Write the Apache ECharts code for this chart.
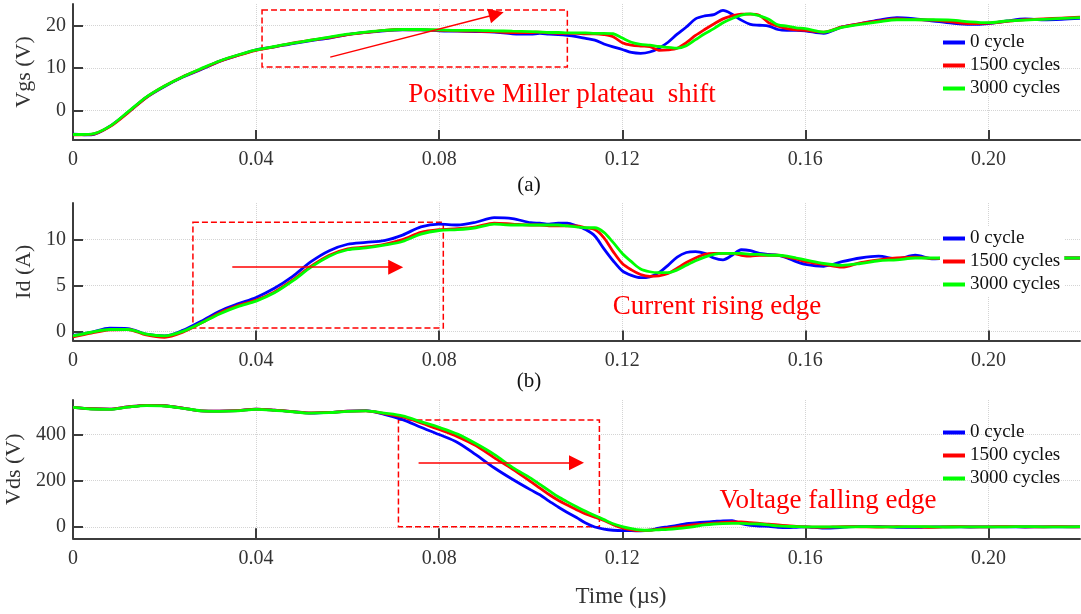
<!DOCTYPE html>
<html><head><meta charset="utf-8">
<script src="https://cdn.jsdelivr.net/npm/echarts@6/dist/echarts.min.js"></script>
<style>html,body{margin:0;padding:0;background:#fff}#c{width:1081px;height:614px}</style>
</head><body><div id="c"></div>
<script>
// time axis (µs)
const T = [0,0.004,0.008,0.012,0.016,0.02,0.024,0.028,0.032,0.036,
  0.04,0.044,0.048,0.052,0.056,0.06,0.064,0.068,0.072,0.076,
  0.08,0.084,0.088,0.092,0.096,0.1,
  0.102,0.104,0.106,0.108,0.11,0.112,0.114,0.116,0.118,0.12,
  0.122,0.124,0.126,0.128,0.13,0.132,0.134,0.136,0.138,0.14,
  0.142,0.144,0.146,0.148,0.15,0.152,0.154,0.156,0.158,0.16,
  0.164,0.168,0.172,0.176,0.18,0.184,0.188,0.192,0.196,0.2,
  0.204,0.208,0.212,0.216,0.22];

const seriesNames = ['0 cycle','1500 cycles','3000 cycles'];

// (a) Vgs (V)
const vgs0 = [-5.6,-5.8,-3.8,-0.5,3.0,5.6,7.8,9.6,11.5,12.9,
  14.2,14.9,15.7,16.4,17.0,17.8,18.3,18.7,18.9,18.9,
  18.7,18.6,18.5,18.4,18.0,17.9,
  18.1,17.9,17.8,17.6,17.3,16.9,16.5,15.6,14.9,14.3,
  13.6,13.4,13.7,14.6,16.0,17.9,19.6,21.5,22.2,22.5,
  23.5,22.6,21.2,20.2,20.0,19.8,19.0,18.8,18.8,18.7,
  18.1,19.6,20.4,21.2,21.8,21.5,21.0,20.5,20.2,20.4,
  21.0,21.5,21.3,21.4,21.6];
const vgs1500 = [-5.8,-5.7,-3.9,-0.6,3.0,5.7,7.9,9.7,11.5,12.9,
  14.1,14.9,15.8,16.5,17.1,17.8,18.3,18.8,19.0,18.9,
  18.8,18.7,18.6,18.5,18.3,18.3,
  18.4,18.2,18.1,18.1,18.1,18.0,18.0,17.8,17.3,15.9,
  15.3,15.1,15.0,14.1,14.2,14.6,15.9,17.6,19.0,20.3,
  21.5,22.2,22.6,22.6,22.3,20.6,19.8,19.2,18.9,18.8,
  18.4,19.6,20.4,21.0,21.5,21.3,21.2,20.8,20.4,20.5,
  20.9,21.3,21.5,21.7,21.9];
const vgs3000 = [-5.7,-5.6,-3.8,-0.4,3.1,5.7,7.9,9.8,11.6,13.0,
  14.2,15.0,15.8,16.5,17.2,17.9,18.4,18.8,19.0,19.0,
  18.9,18.8,18.8,18.7,18.6,18.5,
  18.4,18.3,18.3,18.2,18.2,18.2,18.1,18.1,18.0,17.0,
  16.0,15.5,15.3,15.0,14.8,14.6,15.2,16.6,18.0,19.2,
  20.6,21.6,22.4,22.7,22.2,21.4,20.1,19.8,19.4,19.2,
  18.4,19.5,20.2,20.8,21.3,21.3,21.3,21.2,20.8,20.6,
  21.0,21.2,21.4,21.6,21.8];

// (b) Id (A)
const id0 = [-0.45,-0.1,0.35,0.3,-0.3,-0.5,0.1,1.1,2.2,3.0,
  3.7,4.7,6.0,7.6,8.8,9.5,9.7,9.9,10.5,11.4,
  11.7,11.6,11.9,12.4,12.3,11.85,
  11.8,11.7,11.8,11.8,11.5,11.1,10.4,9.0,7.7,6.6,
  6.1,5.85,5.95,6.4,7.2,8.1,8.6,8.7,8.5,8.0,
  7.8,8.3,8.9,8.8,8.5,8.4,8.3,8.0,7.6,7.3,
  7.1,7.6,8.0,8.2,7.9,8.3,7.9,8.0,8.0,8.0,
  8.0,8.0,8.0,8.0,8.0];
const id1500 = [-0.6,-0.2,0.15,0.2,-0.4,-0.65,-0.1,0.9,2.0,2.8,
  3.4,4.3,5.6,7.1,8.3,9.0,9.2,9.5,10.0,10.8,
  11.1,11.2,11.4,11.8,11.7,11.6,
  11.6,11.5,11.5,11.5,11.5,11.3,11.1,10.2,8.7,7.4,
  6.7,6.2,6.0,6.05,6.3,6.9,7.5,8.0,8.4,8.5,
  8.5,8.5,8.3,8.2,8.3,8.3,8.3,8.1,7.9,7.6,
  7.3,7.0,7.5,7.8,8.0,8.1,7.95,8.0,8.0,8.0,
  8.0,8.0,8.0,8.0,8.0];
const id3000 = [-0.5,-0.1,0.2,0.2,-0.3,-0.5,0.0,0.9,1.9,2.7,
  3.3,4.2,5.5,7.0,8.2,8.9,9.1,9.4,9.8,10.6,
  11.0,11.1,11.3,11.7,11.6,11.6,
  11.6,11.6,11.6,11.5,11.4,11.3,11.3,10.8,9.7,8.5,
  7.6,6.8,6.5,6.4,6.4,6.7,7.2,7.7,8.1,8.4,
  8.5,8.5,8.5,8.4,8.4,8.3,8.3,8.2,8.0,7.8,
  7.4,7.2,7.4,7.7,7.8,8.0,8.0,8.0,8.0,8.0,
  8.0,8.0,8.0,8.0,8.0];

// (c) Vds (V)
const vds0 = [518,512,510,520,527,525,515,503,502,504,
  510,506,500,493,496,502,504,488,465,432,
  400,366,313,256,206,160,
  139,111,86,62,40,16,-1,-10,-15,-17,
  -17,-18,-15,-6,0,6,14,17,20,23,
  26,27,14,6,3,2,-2,-4,-2,0,
  -6,-3,2,2,-2,-3,0,0,-1,0,
  0,-1,0,0,0];
const vds1500 = [518,512,510,520,527,525,515,503,502,504,
  510,506,500,494,496,502,503,491,477,451,
  422,391,352,300,250,196,
  168,140,115,94,74,56,42,27,9,-5,
  -13,-17,-15,-10,-6,-1,4,9,13,16,
  19,21,21,18,15,11,8,5,2,0,
  -2,1,0,-1,1,0,-2,1,0,0,
  1,0,0,1,0];
const vds3000 = [518,511,509,519,526,524,514,503,501,503,
  509,505,499,493,495,501,503,493,481,456,
  431,402,361,314,258,211,
  184,157,130,108,87,67,49,31,13,1,
  -8,-14,-15,-13,-11,-8,-4,2,8,12,
  14,15,15,13,12,8,4,2,1,0,
  0,-1,1,0,0,1,0,-1,0,0,
  0,1,0,0,1];

// ticks
const xTicks = [0,0.04,0.08,0.12,0.16,0.2];
const vgsTicks = [0,10,20];
const idTicks = [0,5,10];
const vdsTicks = [0,200,400];

// annotation boxes [x1,y1,x2,y2] and arrows [x1,y1,x2,y2] (data space)
const boxA = [0.0413,23.6,0.108,10.2];
const arrowA = [0.0562,12.5,0.0925,22.6];
const boxB = [0.0262,11.9,0.0809,0.36];
const arrowB = [0.0348,7.0,0.0705,7.0];
const boxC = [0.0711,463,0.115,0];
const arrowC = [0.0755,278,0.110,278];

const FONT = 'Liberation Serif';
const AXC = '#3c3c3c';
const COLORS = ['#0000ff','#ff0000','#00ff00'];

const grids = [
  {left:73, right:1, top:4, height:136, outerBoundsMode:'none', containLabel:false},
  {left:73, right:1, top:203, height:137.5, outerBoundsMode:'none', containLabel:false},
  {left:73, right:1, top:400, height:138.3, outerBoundsMode:'none', containLabel:false}
];

function mkX(i){
  return {
    type:'value', gridIndex:i, min:0, max:0.22,
    axisLine:{show:true, onZero:false, lineStyle:{color:AXC, width:2}},
    axisTick:{show:true, inside:true, length:10, customValues:xTicks, lineStyle:{color:AXC, width:2}},
    axisLabel:{customValues:xTicks, fontFamily:FONT, fontSize:20, color:'#333', margin:10,
      formatter:v => v === 0 ? '0' : v.toFixed(2)},
    splitLine:{show:true, lineStyle:{color:'#d4d4d4', type:'dotted', width:1}}
  };
}
function mkY(i, name, min, max, ticks){
  return {
    type:'value', gridIndex:i, min:min, max:max, name:name,
    nameLocation:'middle', nameGap:32,
    nameTextStyle:{fontFamily:FONT, fontSize:22, color:'#333'},
    axisLine:{show:true, lineStyle:{color:AXC, width:2}},
    axisTick:{show:true, inside:true, length:10, customValues:ticks, lineStyle:{color:AXC, width:2}},
    axisLabel:{customValues:ticks, fontFamily:FONT, fontSize:20, color:'#333', margin:7},
    splitLine:{show:true, lineStyle:{color:'#d4d4d4', type:'dotted', width:1}}
  };
}

const panelData = [[vgs0,vgs1500,vgs3000],[id0,id1500,id3000],[vds0,vds1500,vds3000]];
const boxes = [boxA, boxB, boxC];
const arrows = [arrowA, arrowB, arrowC];

const series = [];
panelData.forEach((arrs, p) => {
  arrs.forEach((arr, k) => {
    const s = {
      type:'line', name:seriesNames[k], xAxisIndex:p, yAxisIndex:p,
      data:T.map((t,j) => [t, arr[j]]),
      showSymbol:false, smooth:0.3,
      lineStyle:{color:COLORS[k], width:2.8},
      itemStyle:{color:COLORS[k]},
      emphasis:{disabled:true}, silent:true
    };
    if (k === 2) {
      const b = boxes[p], a = arrows[p];
      s.markArea = {
        silent:true, label:{show:false},
        itemStyle:{color:'rgba(0,0,0,0)', borderColor:'#ff0000', borderWidth:1.5, borderType:[6,3]},
        data:[[{coord:[b[0],b[1]]},{coord:[b[2],b[3]]}]]
      };
      s.markLine = {
        silent:true, symbol:['none','triangle'], symbolSize:15,
        label:{show:false},
        lineStyle:{color:'#ff0000', width:1.5, type:'solid'},
        emphasis:{disabled:true},
        data:[[{coord:[a[0],a[1]]},{coord:[a[2],a[3]]}]]
      };
    }
    series.push(s);
  });
});

const legendTops = [31, 227, 421];
const legends = legendTops.map((top, i) => ({
  data:seriesNames, orient:'vertical', left:940, top:top,
  icon:'rect', itemWidth:22, itemHeight:4, itemGap:4,
  selectedMode:false,
  backgroundColor: i === 1 ? '#ffffff' : 'rgba(0,0,0,0)',
  padding:[2,4,2,3],
  textStyle:{fontFamily:FONT, fontSize:19, color:'#111'}
}));

function txt(x, y, text, size, color){
  return {type:'text', x:x, y:y, silent:true, z:50,
    style:{text:text, fill:color, font:size+'px "'+FONT+'"',
      textAlign:'center', textVerticalAlign:'middle', align:'center', verticalAlign:'middle'}};
}

const chart = echarts.init(document.getElementById('c'), null, {renderer:'canvas'});
chart.setOption({
  animation:false,
  backgroundColor:'#ffffff',
  grid:grids,
  xAxis:[mkX(0), mkX(1), mkX(2)],
  yAxis:[mkY(0,'Vgs (V)',-7,25,vgsTicks), mkY(1,'Id (A)',-1,14,idTicks), mkY(2,'Vds (V)',-50,550,vdsTicks)],
  legend:legends,
  series:series,
  graphic:[
    txt(562, 95, 'Positive Miller plateau  shift', 27, '#ff0000'),
    txt(717, 307, 'Current rising edge', 27, '#ff0000'),
    txt(828, 501, 'Voltage falling edge', 27, '#ff0000'),
    txt(529, 185, '(a)', 21, '#111'),
    txt(529, 381, '(b)', 21, '#111'),
    txt(621, 597, 'Time (\u00b5s)', 23, '#333')
  ]
});
</script>
</body></html>
